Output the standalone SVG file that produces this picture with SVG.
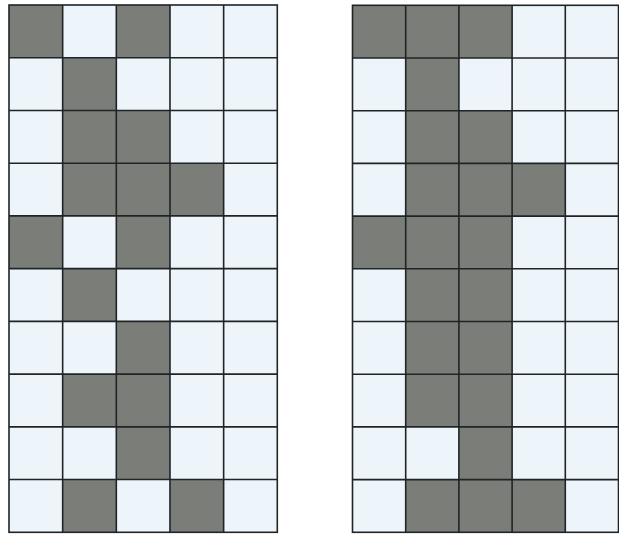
<svg xmlns="http://www.w3.org/2000/svg" width="619" height="534" viewBox="0 0 619 534">
<style>
.d{fill:#7b7d79}
.l{fill:#edf5fb}
.g{stroke:#1f2427;stroke-width:1.6;fill:none}
</style>
<rect width="619" height="534" fill="#ffffff"/>
<g id="grid-left" transform="translate(9,5)">
<g id="left-cells">
<rect class="l" x="0" y="0" width="268.3" height="527.3"/>
<!-- row0 -->
<rect class="d" x="0" y="0" width="53.66" height="52.73"/>
<rect class="d" x="107.32" y="0" width="53.66" height="52.73"/>
<!-- row1 -->
<rect class="d" x="53.66" y="52.73" width="53.66" height="52.73"/>
<!-- row2 -->
<rect class="d" x="53.66" y="105.46" width="107.32" height="52.73"/>
<!-- row3 -->
<rect class="d" x="53.66" y="158.19" width="160.98" height="52.73"/>
<!-- row4 -->
<rect class="d" x="0" y="210.92" width="53.66" height="52.73"/>
<rect class="d" x="107.32" y="210.92" width="53.66" height="52.73"/>
<!-- row5 -->
<rect class="d" x="53.66" y="263.65" width="53.66" height="52.73"/>
<!-- row6 -->
<rect class="d" x="107.32" y="316.38" width="53.66" height="52.73"/>
<!-- row7 -->
<rect class="d" x="53.66" y="369.11" width="107.32" height="52.73"/>
<!-- row8 -->
<rect class="d" x="107.32" y="421.84" width="53.66" height="52.73"/>
<!-- row9 -->
<rect class="d" x="53.66" y="474.57" width="53.66" height="52.73"/>
<rect class="d" x="160.98" y="474.57" width="53.66" height="52.73"/>
</g>
<g id="left-lines" class="g">
<rect x="0" y="0" width="268.3" height="527.3"/>
<path d="M53.66 0V527.3M107.32 0V527.3M160.98 0V527.3M214.64 0V527.3"/>
<path d="M0 52.73H268.3M0 105.46H268.3M0 158.19H268.3M0 210.92H268.3M0 263.65H268.3M0 316.38H268.3M0 369.11H268.3M0 421.84H268.3M0 474.57H268.3"/>
</g>
</g>
<g id="grid-right" transform="translate(352.5,5.3)">
<g id="right-cells">
<rect class="l" x="0" y="0" width="266" height="527"/>
<!-- row0 -->
<rect class="d" x="0" y="0" width="159.6" height="52.7"/>
<!-- row1 -->
<rect class="d" x="53.2" y="52.7" width="53.2" height="52.7"/>
<!-- row2 -->
<rect class="d" x="53.2" y="105.4" width="106.4" height="52.7"/>
<!-- row3 -->
<rect class="d" x="53.2" y="158.1" width="159.6" height="52.7"/>
<!-- row4 -->
<rect class="d" x="0" y="210.8" width="159.6" height="52.7"/>
<!-- row5-7 -->
<rect class="d" x="53.2" y="263.5" width="106.4" height="158.1"/>
<!-- row8 -->
<rect class="d" x="106.4" y="421.6" width="53.2" height="52.7"/>
<!-- row9 -->
<rect class="d" x="53.2" y="474.3" width="159.6" height="52.7"/>
</g>
<g id="right-lines" class="g">
<rect x="0" y="0" width="266" height="527"/>
<path d="M53.2 0V527M106.4 0V527M159.6 0V527M212.8 0V527"/>
<path d="M0 52.7H266M0 105.4H266M0 158.1H266M0 210.8H266M0 263.5H266M0 316.2H266M0 368.9H266M0 421.6H266M0 474.3H266"/>
</g>
</g>
</svg>
